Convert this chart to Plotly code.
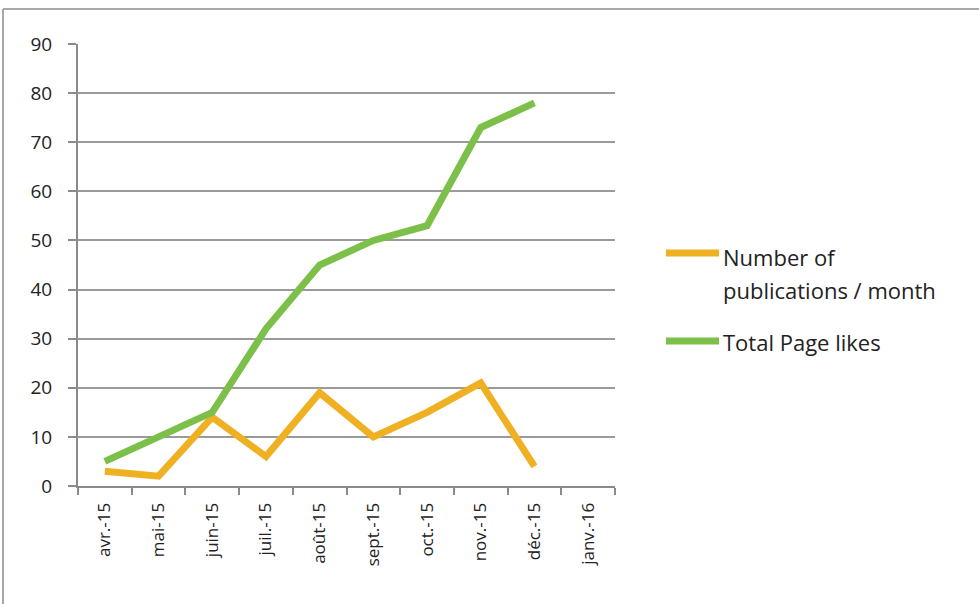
import plotly.graph_objects as go

months = ["avr.-15", "mai-15", "juin-15", "juil.-15", "août-15", "sept.-15",
          "oct.-15", "nov.-15", "déc.-15", "janv.-16"]
publications = [3, 2, 14, 6, 19, 10, 15, 21, 4, None]
page_likes = [5, 10, 15, 32, 45, 50, 53, 73, 78, None]
y_ticks = [0, 10, 20, 30, 40, 50, 60, 70, 80, 90]
series_names = [["Number of", "publications / month"], ["Total Page likes"]]
series_colors = ["#EFB022", "#7CC04A"]

W, H = 979, 604
L, R, T, B = 78, 364, 44, 118
pw, ph = W - L - R, H - T - B

FONT = "Open Sans, sans-serif"

fig = go.Figure()
for vals, names, col in zip([publications, page_likes], series_names, series_colors):
    fig.add_trace(go.Scatter(x=months, y=vals, mode="lines",
                             name=" ".join(names), showlegend=False,
                             line=dict(color=col, width=7)))


def px_x(x):
    return (x - L) / pw


def px_y(y):
    return 1 - (y - T) / ph


shapes = [
    dict(type="line", xref="paper", yref="paper",
         x0=px_x(3), x1=px_x(985), y0=px_y(9), y1=px_y(9),
         line=dict(color="#a8a8a8", width=2)),
    dict(type="line", xref="paper", yref="paper",
         x0=px_x(3), x1=px_x(3), y0=px_y(9), y1=px_y(610),
         line=dict(color="#a8a8a8", width=2)),
]
annotations = []
# manual legend
legend_rows = [(253, 257), (341, 342)]
for names, col, (yline, ytext) in zip(series_names, series_colors, legend_rows):
    shapes.append(dict(type="line", xref="paper", yref="paper",
                       x0=px_x(666), x1=px_x(719), y0=px_y(yline), y1=px_y(yline),
                       line=dict(color=col, width=7)))
    for i, txt in enumerate(names):
        annotations.append(dict(xref="paper", yref="paper", x=px_x(721),
                                y=px_y(ytext + i * 33), text=txt,
                                showarrow=False, xanchor="left", yanchor="middle",
                                font=dict(family=FONT, size=22, color="#222222")))

fig.update_layout(
    width=W, height=H,
    margin=dict(l=L, r=R, t=T, b=B, pad=0),
    paper_bgcolor="white", plot_bgcolor="white",
    font=dict(family=FONT, size=17, color="#222222"),
    showlegend=False,
    xaxis=dict(type="category", categoryorder="array", categoryarray=months,
               range=[-0.5, 9.5], tickson="boundaries", ticks="outside",
               ticklen=7, tickwidth=2, tickcolor="#8a8a8a",
               showline=True, linecolor="#8a8a8a", linewidth=2,
               showgrid=False, tickangle=-90, tickfont=dict(size=17),
               ticklabelstandoff=8, fixedrange=True),
    yaxis=dict(range=[0, 90], tickvals=y_ticks, ticks="outside", ticklen=8,
               tickwidth=2, tickcolor="#8a8a8a", showline=True,
               linecolor="#8a8a8a", linewidth=2, showgrid=True,
               gridcolor="#9a9a9a", gridwidth=2, zeroline=False,
               tickfont=dict(size=19), ticklabelstandoff=12, fixedrange=True),
    shapes=shapes,
    annotations=annotations,
)

fig.write_html("out.html")
